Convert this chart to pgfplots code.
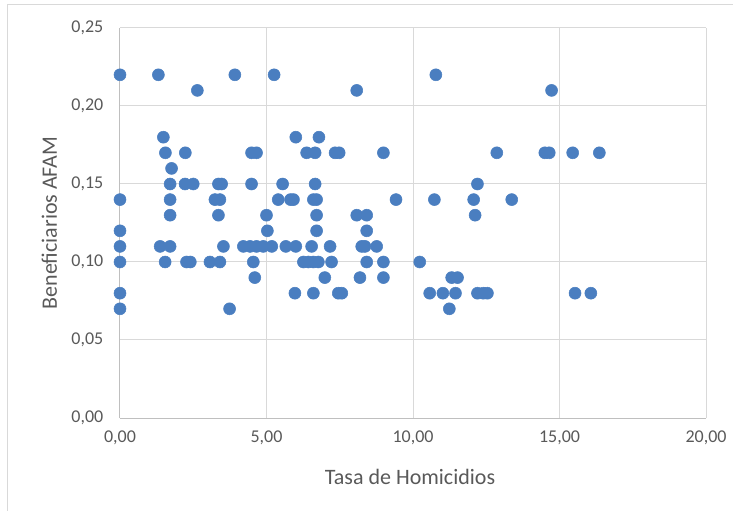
\documentclass[border=0pt]{standalone}
\usepackage{fontspec}
\setmainfont{Carlito}
\usepackage{pgfplots}
\pgfplotsset{compat=1.18}
\definecolor{dotblue}{HTML}{4A7EC0}
\definecolor{gridgray}{HTML}{D9D9D9}
\definecolor{axgray}{HTML}{BFBFBF}
\definecolor{txtgray}{HTML}{595959}
\begin{document}
\begin{tikzpicture}
\useasboundingbox (0,0) rectangle (549.75pt,383.25pt);
\draw[gridgray,line width=0.75pt] (5.25pt,0pt) -- (5.25pt,379.5pt) -- (549.75pt,379.5pt);
\begin{axis}[
  at={(90pt,69.75pt)}, anchor=south west,
  scale only axis, width=439.5pt, height=292.5pt,
  xmin=0, xmax=20, ymin=0, ymax=0.25,
  xtick={0,5,10,15,20}, ytick={0,0.05,0.10,0.15,0.20,0.25},
  grid=major, major grid style={gridgray, line width=0.75pt},
  axis line style={draw=none},
  tick style={draw=none},
  /pgf/number format/.cd, fixed, fixed zerofill, precision=2, use comma, assume math mode=true,
  /pgfplots/.cd,
  scaled y ticks=false, scaled x ticks=false,
  tick label style={font=\fontsize{13.5pt}{16pt}\selectfont, text=txtgray},
  xticklabel shift=6.25pt, yticklabel shift=9pt,
  xlabel={Tasa de Homicidios}, ylabel={Beneficiarios AFAM},
  label style={font=\fontsize{16.5pt}{19pt}\selectfont, text=txtgray},
  xlabel style={at={([yshift=-44.25pt]axis description cs:0.495,0)}, anchor=center},
  ylabel style={at={([xshift=-53pt]axis description cs:0,0.5)}, anchor=center},
  clip=false,
]
\draw[axgray, line width=0.75pt] (axis cs:0,0) -- (axis cs:20,0);
\draw[axgray, line width=0.75pt] (axis cs:0,0) -- (axis cs:0,0.25);
\addplot[only marks, mark=*, mark size=4.5pt, mark options={fill=dotblue, draw=dotblue}] table[row sep=\\] {
x y\\
0 0.22\\ 1.31 0.22\\ 3.92 0.22\\ 5.26 0.22\\ 10.78 0.22\\
2.64 0.21\\ 8.08 0.21\\ 14.73 0.21\\
1.48 0.18\\ 6.00 0.18\\ 6.79 0.18\\
1.55 0.17\\ 2.23 0.17\\ 4.49 0.17\\ 4.66 0.17\\ 6.37 0.17\\ 6.66 0.17\\ 7.34 0.17\\ 7.48 0.17\\ 8.99 0.17\\ 12.86 0.17\\ 14.50 0.17\\ 14.65 0.17\\ 15.45 0.17\\ 16.36 0.17\\
1.76 0.16\\
1.71 0.15\\ 2.22 0.15\\ 2.50 0.15\\ 3.36 0.15\\ 3.47 0.15\\ 4.49 0.15\\ 5.55 0.15\\ 6.66 0.15\\ 12.20 0.15\\
0 0.14\\ 1.71 0.14\\ 3.24 0.14\\ 3.41 0.14\\ 5.40 0.14\\ 5.82 0.14\\ 5.92 0.14\\ 6.60 0.14\\ 6.71 0.14\\ 9.42 0.14\\ 10.73 0.14\\ 12.07 0.14\\ 13.37 0.14\\
1.71 0.13\\ 3.36 0.13\\ 5.00 0.13\\ 6.71 0.13\\ 8.08 0.13\\ 8.42 0.13\\ 12.12 0.13\\
0 0.12\\ 5.03 0.12\\ 6.71 0.12\\ 8.42 0.12\\
0 0.11\\ 1.37 0.11\\ 1.71 0.11\\ 3.53 0.11\\ 4.21 0.11\\ 4.44 0.11\\ 4.66 0.11\\ 4.89 0.11\\ 5.18 0.11\\ 5.66 0.11\\ 6.00 0.11\\ 6.54 0.11\\ 7.17 0.11\\ 8.25 0.11\\ 8.36 0.11\\ 8.76 0.11\\
0 0.10\\ 1.54 0.10\\ 2.27 0.10\\ 2.40 0.10\\ 3.07 0.10\\ 3.41 0.10\\ 4.55 0.10\\ 6.26 0.10\\ 6.43 0.10\\ 6.60 0.10\\ 6.77 0.10\\ 7.22 0.10\\ 8.42 0.10\\ 8.99 0.10\\ 10.23 0.10\\
4.60 0.09\\ 6.99 0.09\\ 8.19 0.09\\ 8.99 0.09\\ 11.32 0.09\\ 11.52 0.09\\
0 0.08\\ 5.97 0.08\\ 6.60 0.08\\ 7.45 0.08\\ 7.57 0.08\\ 10.57 0.08\\ 11.02 0.08\\ 11.45 0.08\\ 12.20 0.08\\ 12.40 0.08\\ 12.54 0.08\\ 15.53 0.08\\ 16.07 0.08\\
0 0.07\\ 3.74 0.07\\ 11.24 0.07\\
};
\end{axis}
\end{tikzpicture}
\end{document}
